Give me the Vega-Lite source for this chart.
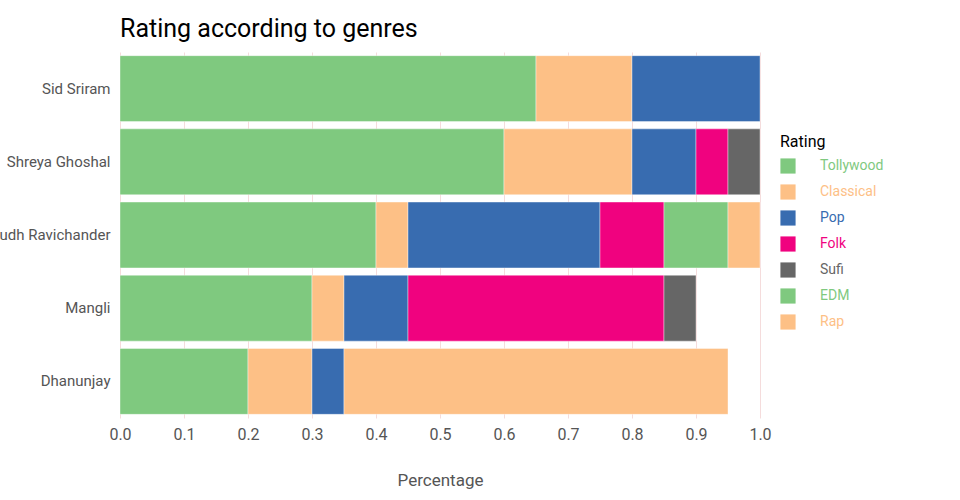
{
  "$schema": "https://vega.github.io/schema/vega-lite/v6.json",
  "autosize": {"type": "none"},
  "width": 640,
  "height": 366,
  "padding": {"left": 120, "top": 52, "right": 200, "bottom": 82},
  "background": "white",
  "title": {"text": "Rating according to genres", "anchor": "start", "frame": "group", "fontSize": 25, "font": "Roboto", "fontWeight": "normal", "color": "black", "offset": 10},
  "data": {"values": [
    {"singer": "Sid Sriram", "genre": "Tollywood", "value": 0.65},
    {"singer": "Sid Sriram", "genre": "Classical", "value": 0.15},
    {"singer": "Sid Sriram", "genre": "Pop", "value": 0.2},
    {"singer": "Shreya Ghoshal", "genre": "Tollywood", "value": 0.6},
    {"singer": "Shreya Ghoshal", "genre": "Classical", "value": 0.2},
    {"singer": "Shreya Ghoshal", "genre": "Pop", "value": 0.1},
    {"singer": "Shreya Ghoshal", "genre": "Folk", "value": 0.05},
    {"singer": "Shreya Ghoshal", "genre": "Sufi", "value": 0.05},
    {"singer": "Anirudh Ravichander", "genre": "Tollywood", "value": 0.4},
    {"singer": "Anirudh Ravichander", "genre": "Classical", "value": 0.05},
    {"singer": "Anirudh Ravichander", "genre": "Pop", "value": 0.3},
    {"singer": "Anirudh Ravichander", "genre": "Folk", "value": 0.1},
    {"singer": "Anirudh Ravichander", "genre": "EDM", "value": 0.1},
    {"singer": "Anirudh Ravichander", "genre": "Rap", "value": 0.05},
    {"singer": "Mangli", "genre": "Tollywood", "value": 0.3},
    {"singer": "Mangli", "genre": "Classical", "value": 0.05},
    {"singer": "Mangli", "genre": "Pop", "value": 0.1},
    {"singer": "Mangli", "genre": "Folk", "value": 0.4},
    {"singer": "Mangli", "genre": "Sufi", "value": 0.05},
    {"singer": "Dhanunjay", "genre": "Tollywood", "value": 0.2},
    {"singer": "Dhanunjay", "genre": "Classical", "value": 0.1},
    {"singer": "Dhanunjay", "genre": "Pop", "value": 0.05},
    {"singer": "Dhanunjay", "genre": "Rap", "value": 0.6}
  ]},
  "mark": {"type": "bar", "stroke": "white", "strokeOpacity": 0.4, "strokeWidth": 1},
  "encoding": {
    "y": {"field": "singer", "type": "nominal", "sort": ["Sid Sriram", "Shreya Ghoshal", "Anirudh Ravichander", "Mangli", "Dhanunjay"],
      "scale": {"paddingInner": 0.1, "paddingOuter": 0.05},
      "axis": {"title": null, "domain": false, "ticks": false, "labelFontSize": 15, "labelFont": "Roboto", "labelColor": "#555555", "labelPadding": 10, "grid": false}},
    "x": {"field": "value", "type": "quantitative", "stack": "zero", "scale": {"domain": [0, 1]},
      "axis": {"title": "Percentage", "format": ".1f", "tickCount": 10, "labelFlush": false, "domain": false, "ticks": false, "grid": true, "gridColor": "#f5dcdc", "labelFontSize": 16, "labelFont": "Roboto", "labelColor": "#555555", "labelPadding": 8, "titleFont": "Roboto", "titleFontSize": 17, "titleFontWeight": "normal", "titleColor": "#555555", "titlePadding": 30}},
    "order": {"field": "gorder", "type": "quantitative"},
    "color": {"field": "genre", "type": "nominal",
      "scale": {"domain": ["Tollywood", "Classical", "Pop", "Folk", "Sufi", "EDM", "Rap"], "range": ["#7fc97f", "#fdc086", "#386cb0", "#f0027f", "#666666", "#7fc97f", "#fdc086"]},
      "legend": {"title": "Rating", "orient": "none", "legendX": 660, "legendY": 82, "titleFont": "Roboto", "titleFontSize": 16, "titleFontWeight": "normal", "titleColor": "black", "labelFont": "Roboto", "labelFontSize": 14, "symbolType": "square", "symbolSize": 230, "symbolStrokeWidth": 0, "labelOffset": 24, "rowPadding": 10, "padding": 0, "titlePadding": 8,
        "labelColor": {"expr": "scale('color', datum.value)"}}
    }
  },
  "transform": [
    {"calculate": "indexof(['Tollywood','Classical','Pop','Folk','Sufi','EDM','Rap'], datum.genre)", "as": "gorder"}
  ],
  "config": {"view": {"stroke": null}}
}
